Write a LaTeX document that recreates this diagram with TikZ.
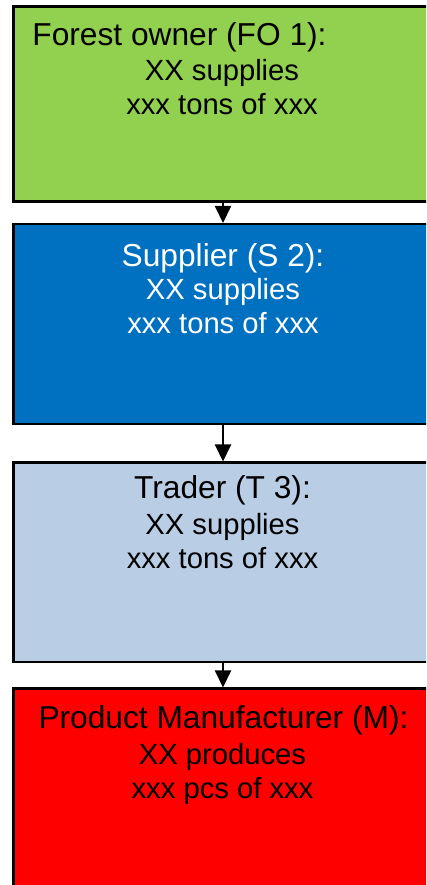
\documentclass[tikz,border=0pt]{standalone}
\usepackage{fontspec}
\setmainfont{Liberation Sans}
\usetikzlibrary{arrows.meta}
\definecolor{fogreen}{HTML}{92D050}
\definecolor{supblue}{HTML}{0070C0}
\definecolor{trlight}{HTML}{B9CDE5}
\definecolor{mfred}{HTML}{FF0000}
\begin{document}
\begin{tikzpicture}[x=1pt,y=1pt,
  box/.style={draw=black, line width=2.5pt, inner sep=0pt, anchor=north west, minimum width=440pt},
  lbl/.style={anchor=base, inner sep=0pt, font=\fontsize{31.7}{34.5}\selectfont},
  sub/.style={anchor=base, inner sep=0pt, font=\fontsize{29.2}{34.5}\selectfont},
  flow/.style={line width=2pt, -{Triangle[length=17pt,width=16pt]}}]
\useasboundingbox (0,0) rectangle (426,885);
\clip (0,0) rectangle (426,885);
% boxes
\node[box, fill=fogreen, minimum height=194.8pt] (fo) at (12,879.5) {};
\node[box, fill=supblue, minimum height=200pt] (sup) at (12,662) {};
\node[box, fill=trlight, minimum height=199.5pt] (tr) at (12,423.5) {};
\node[box, fill=mfred, minimum height=230pt] (mf) at (12,197.5) {};
% arrows
\coordinate (ax) at (223,0);
\draw[flow] (fo.south west -| ax) -- (sup.north west -| ax);
\draw[flow] (sup.south west -| ax) -- (tr.north west -| ax);
\draw[flow] (tr.south west -| ax) -- (mf.north west -| ax);
% texts
\node[lbl] (fo1) at (179.5,839) {Forest owner (FO 1):};
\node[sub] (fo2) at (222,804) {XX supplies};
\node[sub] (fo3) at (222,770) {xxx tons of xxx};
\node[lbl, text=white] (s1) at (223,618) {Supplier (S 2):};
\node[sub, text=white] (s2) at (223,585) {XX supplies};
\node[sub, text=white] (s3) at (223,551) {xxx tons of xxx};
\node[lbl] (t1) at (222.5,386) {Trader (T 3):};
\node[sub] (t2) at (222.5,350) {XX supplies};
\node[sub] (t3) at (222.5,316) {xxx tons of xxx};
\node[lbl] (m1) at (223.5,156) {Product Manufacturer (M):};
\node[sub] (m2) at (222.5,120) {XX produces};
\node[sub] (m3) at (222.5,86) {xxx pcs of xxx};
\end{tikzpicture}
\end{document}
